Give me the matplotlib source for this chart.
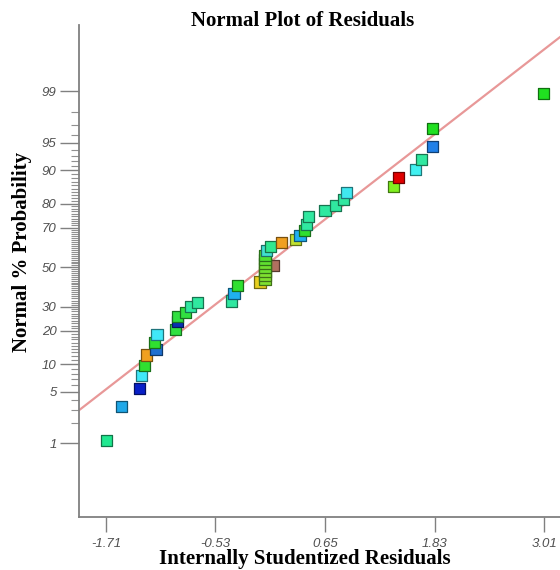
from statistics import NormalDist

import matplotlib
matplotlib.use("Agg")
import matplotlib.pyplot as plt
import matplotlib.colors as mcolors
import numpy as np

# residuals (x) and normal % probability (y)
RESIDUALS = [
    -1.70, -1.54, -1.35, -1.33, -1.29, -1.27, -1.17, -1.19, -1.16, -0.96,
    -0.94, -0.94, -0.85, -0.80, -0.72, -0.355, -0.33, -0.295, -0.05, 0.09,
    0.003, 0.003, 0.003, 0.003, 0.003, 0.003, 0.003, 0.02, 0.06, 0.18,
    0.33, 0.38, 0.43, 0.45, 0.47, 0.65, 0.76, 0.85, 0.88, 1.39,
    1.44, 1.62, 1.69, 1.81, 1.81, 3.00,
]
PROBABILITY = [
    1.09, 3.3, 5.46, 7.7, 9.8, 12.3, 13.9, 15.9, 18.8, 20.5,
    23.5, 25.6, 27.5, 30.0, 31.9, 32.8, 36.4, 40.6, 42.3, 51.0,
    43.7, 45.8, 47.9, 50.0, 52.1, 54.2, 56.3, 58.9, 60.6, 62.8,
    64.3, 66.4, 68.8, 71.5, 75.0, 77.2, 79.4, 81.4, 83.7, 85.8,
    88.2, 90.2, 92.3, 94.5, 96.7, 98.9,
]
POINT_COLORS = [
    "#20e890", "#20a8e8", "#0820c8", "#40e8f8", "#30e030", "#f0a020", "#2070d0", "#30e030", "#40e8f8", "#30e040",
    "#0830b0", "#30e040", "#30e040", "#30e8a0", "#30e8a0", "#30e8a0", "#20b0f0", "#30e030", "#e8d020", "#b07060",
    "#80e030", "#80e030", "#80e030", "#70e030", "#70e030", "#60e030", "#50e030", "#40e0d0", "#30e890", "#f0a020",
    "#c0e030", "#20b0f0", "#30e030", "#30e8a0", "#30e8a0", "#30e8a0", "#30e8a0", "#30e8a0", "#40e8f0", "#80f020",
    "#e00000", "#40f0f0", "#30e8a0", "#2080e8", "#20e020", "#20e020",
]

X_TICKS = [-1.71, -0.53, 0.65, 1.83, 3.01]
Y_MAJOR = [1, 5, 10, 20, 30, 50, 70, 80, 90, 95, 99]

# reference line (in normal-score units)
LINE_SLOPE = 0.952
LINE_INTERCEPT = 0.014

nd = NormalDist()


def to_z(p):
    return nd.inv_cdf(p / 100.0)


def main():
    fig = plt.figure(figsize=(5.6, 5.7), dpi=100)
    ax = fig.add_axes([0.141, 0.093, 0.859, 0.863])

    xlim = (-2.0, 3.18)
    ax.set_xlim(*xlim)
    ax.set_ylim(-3.3, 3.2)

    xs = np.array(xlim)
    ax.plot(xs, LINE_SLOPE * xs + LINE_INTERCEPT, color="#e89898", lw=1.6, zorder=2)

    z = [to_z(p) for p in PROBABILITY]
    edges = [tuple(c * 0.5 for c in mcolors.to_rgb(col)) for col in POINT_COLORS]
    ax.scatter(RESIDUALS, z, s=64, marker="s", c=POINT_COLORS,
               edgecolors=edges, linewidths=0.9, zorder=3)

    for side in ["top", "right"]:
        ax.spines[side].set_visible(False)
    for side in ["left", "bottom"]:
        ax.spines[side].set_color("#808080")
        ax.spines[side].set_linewidth(1.3)

    tick_font = dict(family="Liberation Sans", style="italic", size=9.5, color="#505050")

    ax.set_xticks(X_TICKS)
    ax.set_xticklabels([f"{t:.2f}" for t in X_TICKS], **tick_font)
    ax.tick_params(axis="x", length=11, width=1.0, color="#808080", pad=4)

    ax.set_yticks([to_z(p) for p in Y_MAJOR])
    ax.set_yticklabels([str(p) for p in Y_MAJOR], **tick_font)
    minor = [to_z(p) for p in range(1, 100) if p not in Y_MAJOR]
    ax.set_yticks(minor, minor=True)
    ax.tick_params(axis="y", which="major", length=14, width=1.0, color="#808080", pad=2)
    ax.tick_params(axis="y", which="minor", length=6, width=0.8, color="#909090")

    label_font = dict(family="Liberation Serif", weight="bold", size=15, color="black")
    fig.text(0.54, 0.963, "Normal Plot of Residuals", ha="center", va="center", **label_font)
    fig.text(0.545, 0.019, "Internally Studentized Residuals", ha="center", va="center", **label_font)
    fig.text(0.04, 0.558, "Normal % Probability", ha="center", va="center",
             rotation=90, **label_font)

    fig.savefig("out.png", dpi=100)
    plt.close(fig)


if __name__ == "__main__":
    main()
